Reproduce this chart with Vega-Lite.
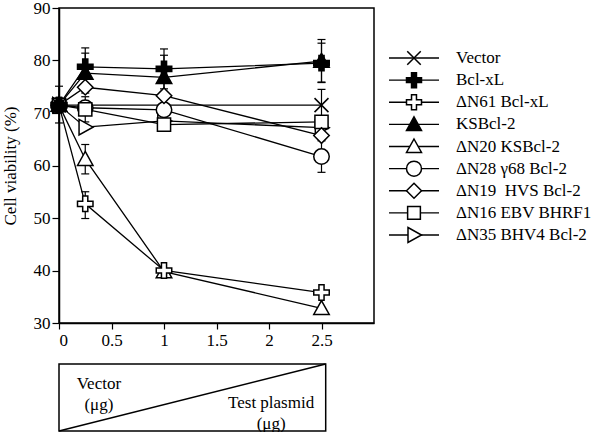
{
  "$schema": "https://vega.github.io/schema/vega-lite/v6.json",
  "padding": {"left": 0, "top": -2, "right": 0, "bottom": 0},
  "config": {
    "font": "Liberation Serif",
    "axis": {"domainColor": "black", "tickColor": "black", "labelColor": "black", "titleColor": "black", "grid": false, "labelFontSize": 17, "titleFontSize": 17, "titleFontWeight": "normal", "tickWidth": 1.2, "domainWidth": 1.5, "labelFont": "Liberation Serif", "titleFont": "Liberation Serif"}
  },
  "datasets": {
    "pts": [
      {"series": "ΔN35 BHV4 Bcl-2", "x": 0, "v": 71.5},
      {"series": "ΔN35 BHV4 Bcl-2", "x": 0.25, "v": 67.3},
      {"series": "ΔN35 BHV4 Bcl-2", "x": 1, "v": 68.5},
      {"series": "ΔN35 BHV4 Bcl-2", "x": 2.5, "v": 67.2},
      {"series": "ΔN28 γ68 Bcl-2", "x": 0, "v": 71.5},
      {"series": "ΔN28 γ68 Bcl-2", "x": 0.25, "v": 71.0},
      {"series": "ΔN28 γ68 Bcl-2", "x": 1, "v": 70.6},
      {"series": "ΔN28 γ68 Bcl-2", "x": 2.5, "v": 61.7, "lo": 58.7, "hi": 64.7},
      {"series": "ΔN16 EBV BHRF1", "x": 0, "v": 71.5},
      {"series": "ΔN16 EBV BHRF1", "x": 0.25, "v": 70.7, "lo": 68.3, "hi": 73.1},
      {"series": "ΔN16 EBV BHRF1", "x": 1, "v": 67.8},
      {"series": "ΔN16 EBV BHRF1", "x": 2.5, "v": 68.3},
      {"series": "ΔN19\u00a0 HVS Bcl-2", "x": 0, "v": 71.5},
      {"series": "ΔN19\u00a0 HVS Bcl-2", "x": 0.25, "v": 74.9},
      {"series": "ΔN19\u00a0 HVS Bcl-2", "x": 1, "v": 73.3},
      {"series": "ΔN19\u00a0 HVS Bcl-2", "x": 2.5, "v": 65.7},
      {"series": "ΔN20 KSBcl-2", "x": 0, "v": 71.5},
      {"series": "ΔN20 KSBcl-2", "x": 0.25, "v": 61.2, "lo": 58.4, "hi": 64.0},
      {"series": "ΔN20 KSBcl-2", "x": 1, "v": 39.8},
      {"series": "ΔN20 KSBcl-2", "x": 2.5, "v": 32.8},
      {"series": "ΔN61 Bcl-xL", "x": 0, "v": 71.5},
      {"series": "ΔN61 Bcl-xL", "x": 0.25, "v": 52.7, "lo": 49.9, "hi": 55.0},
      {"series": "ΔN61 Bcl-xL", "x": 1, "v": 40.0},
      {"series": "ΔN61 Bcl-xL", "x": 2.5, "v": 35.8},
      {"series": "Vector", "x": 0, "v": 71.5, "lo": 68.1, "hi": 75.1},
      {"series": "Vector", "x": 2.5, "v": 71.5, "lo": 68.5, "hi": 74.5},
      {"series": "KSBcl-2", "x": 0, "v": 71.5},
      {"series": "KSBcl-2", "x": 0.25, "v": 77.6, "lo": 73.8, "hi": 81.4},
      {"series": "KSBcl-2", "x": 1, "v": 76.8, "lo": 72.6, "hi": 81.0},
      {"series": "KSBcl-2", "x": 2.5, "v": 79.9, "lo": 75.9, "hi": 84.0},
      {"series": "Bcl-xL", "x": 0, "v": 71.5},
      {"series": "Bcl-xL", "x": 0.25, "v": 78.8, "lo": 75.2, "hi": 82.4},
      {"series": "Bcl-xL", "x": 1, "v": 78.4, "lo": 74.6, "hi": 82.2},
      {"series": "Bcl-xL", "x": 2.5, "v": 79.5, "lo": 75.8, "hi": 83.3}
    ],
    "leg": [
      {"series": "Vector"},
      {"series": "Bcl-xL"},
      {"series": "ΔN61 Bcl-xL"},
      {"series": "KSBcl-2"},
      {"series": "ΔN20 KSBcl-2"},
      {"series": "ΔN28 γ68 Bcl-2"},
      {"series": "ΔN19\u00a0 HVS Bcl-2"},
      {"series": "ΔN16 EBV BHRF1"},
      {"series": "ΔN35 BHV4 Bcl-2"}
    ],
    "box": [{"x0": 0, "x1": 2.54, "y0": 0, "y1": 1}],
    "lbl": [
      {"t": "Vector\n(μg)", "x": 0.38, "y": 0.706},
      {"t": "Test plasmid\n(μg)", "x": 2.02, "y": 0.422}
    ]
  },
  "resolve": {"scale": {"x": "independent", "y": "independent"}},
  "spacing": 13,
  "hconcat": [
    {
      "spacing": 14,
      "resolve": {"scale": {"x": "independent", "y": "independent"}},
      "vconcat": [
        {
          "width": 315,
          "height": 315,
          "view": {"stroke": "black", "strokeWidth": 1.5},
          "data": {"name": "pts"},
          "encoding": {
            "x": {"field": "x", "type": "quantitative", "title": null, "scale": {"domain": [0, 3], "nice": false}, "axis": {"values": [0, 0.5, 1, 1.5, 2, 2.5], "format": "~g", "tickSize": 6, "labelPadding": 3}}
          },
          "layer": [
            {
              "mark": {"type": "line", "stroke": "black", "strokeWidth": 1.3},
              "encoding": {
                "y": {"field": "v", "type": "quantitative", "title": "Cell viability (%)", "scale": {"domain": [30, 90], "nice": false, "zero": false}, "axis": {"values": [30, 40, 50, 60, 70, 80, 90], "tickSize": 7, "labelPadding": 2, "titlePadding": 14}},
                "detail": {"field": "series"},
                "order": {"field": "x"}
              }
            },
            {
              "transform": [{"filter": "isValid(datum.hi)"}],
              "mark": {"type": "rule", "stroke": "black", "strokeWidth": 1.2},
              "encoding": {
                "y": {"field": "lo", "type": "quantitative", "title": "Cell viability (%)"},
                "y2": {"field": "hi"}
              }
            },
            {
              "transform": [{"filter": "isValid(datum.hi)"}],
              "mark": {"type": "tick", "orient": "horizontal", "size": 8, "thickness": 1.2, "color": "black", "opacity": 1},
              "encoding": {"y": {"field": "hi", "type": "quantitative", "title": "Cell viability (%)"}}
            },
            {
              "transform": [{"filter": "isValid(datum.lo)"}],
              "mark": {"type": "tick", "orient": "horizontal", "size": 8, "thickness": 1.2, "color": "black", "opacity": 1},
              "encoding": {"y": {"field": "lo", "type": "quantitative", "title": "Cell viability (%)"}}
            },
            {
              "mark": {"type": "point", "size": 240, "stroke": "black", "strokeWidth": 1.5, "opacity": 1},
              "encoding": {
                "y": {"field": "v", "type": "quantitative", "title": "Cell viability (%)"},
                "shape": {
                  "field": "series", "type": "nominal",
                  "scale": {
                    "domain": ["Vector", "Bcl-xL", "ΔN61 Bcl-xL", "KSBcl-2", "ΔN20 KSBcl-2", "ΔN28 γ68 Bcl-2", "ΔN19\u00a0 HVS Bcl-2", "ΔN16 EBV BHRF1", "ΔN35 BHV4 Bcl-2"],
                    "range": [
                      "M-0.9,-0.9L0.9,0.9M-0.9,0.9L0.9,-0.9",
                      "M-0.33,-1H0.33V-0.33H1V0.33H0.33V1H-0.33V0.33H-1V-0.33H-0.33Z",
                      "M-0.33,-1H0.33V-0.33H1V0.33H0.33V1H-0.33V0.33H-1V-0.33H-0.33Z",
                      "M0,-1L1,0.8L-1,0.8Z",
                      "M0,-1L1,0.8L-1,0.8Z",
                      "M1,0A1,1 0 1,1 -1,0A1,1 0 1,1 1,0Z",
                      "M0,-1L1,0L0,1L-1,0Z",
                      "M-0.85,-0.85H0.85V0.85H-0.85Z",
                      "M-0.8,-1L1,0L-0.8,1Z"
                    ]
                  },
                  "legend": null
                },
                "fill": {
                  "field": "series", "type": "nominal",
                  "scale": {
                    "domain": ["Vector", "Bcl-xL", "ΔN61 Bcl-xL", "KSBcl-2", "ΔN20 KSBcl-2", "ΔN28 γ68 Bcl-2", "ΔN19\u00a0 HVS Bcl-2", "ΔN16 EBV BHRF1", "ΔN35 BHV4 Bcl-2"],
                    "range": ["white", "black", "white", "black", "white", "white", "white", "white", "white"]
                  },
                  "legend": null
                }
              }
            }
          ]
        },
        {
          "width": 315,
          "height": 67,
          "view": {"stroke": null},
          "layer": [
            {
              "data": {"name": "box"},
              "mark": {"type": "rect", "fill": "white", "stroke": "black", "strokeWidth": 1.5},
              "encoding": {
                "x": {"field": "x0", "type": "quantitative", "scale": {"domain": [0, 3], "nice": false}, "axis": null},
                "x2": {"field": "x1"},
                "y": {"field": "y0", "type": "quantitative", "scale": {"domain": [0, 1], "nice": false}, "axis": null},
                "y2": {"field": "y1"}
              }
            },
            {
              "data": {"name": "box"},
              "mark": {"type": "rule", "stroke": "black", "strokeWidth": 1.5},
              "encoding": {
                "x": {"field": "x0", "type": "quantitative"},
                "x2": {"field": "x1"},
                "y": {"field": "y0", "type": "quantitative"},
                "y2": {"field": "y1"}
              }
            },
            {
              "data": {"name": "lbl"},
              "mark": {"type": "text", "fontSize": 17, "lineBreak": "\n", "lineHeight": 21, "align": "center", "baseline": "middle", "color": "black"},
              "encoding": {
                "x": {"field": "x", "type": "quantitative"},
                "y": {"field": "y", "type": "quantitative"},
                "text": {"field": "t"}
              }
            }
          ]
        }
      ]
    },
    {
      "width": 207,
      "height": 296,
      "view": {"stroke": null},
      "data": {"name": "leg"},
      "encoding": {
        "y": {"field": "series", "type": "nominal", "sort": null, "axis": null,
          "scale": {"type": "point", "padding": 0, "range": [50, 227], "domain": ["Vector", "Bcl-xL", "ΔN61 Bcl-xL", "KSBcl-2", "ΔN20 KSBcl-2", "ΔN28 γ68 Bcl-2", "ΔN19\u00a0 HVS Bcl-2", "ΔN16 EBV BHRF1", "ΔN35 BHV4 Bcl-2"]}}
      },
      "layer": [
        {
          "mark": {"type": "rule", "stroke": "black", "strokeWidth": 1.3},
          "encoding": {
            "x": {"datum": 0, "type": "quantitative", "scale": {"domain": [0, 207], "nice": false, "zero": false}, "axis": null},
            "x2": {"datum": 50}
          }
        },
        {
          "mark": {"type": "point", "size": 225, "stroke": "black", "strokeWidth": 1.5, "opacity": 1},
          "encoding": {
            "x": {"datum": 25, "type": "quantitative"},
            "shape": {
              "field": "series", "type": "nominal", "legend": null,
              "scale": {
                "domain": ["Vector", "Bcl-xL", "ΔN61 Bcl-xL", "KSBcl-2", "ΔN20 KSBcl-2", "ΔN28 γ68 Bcl-2", "ΔN19\u00a0 HVS Bcl-2", "ΔN16 EBV BHRF1", "ΔN35 BHV4 Bcl-2"],
                "range": [
                  "M-0.95,-0.95L0.95,0.95M-0.95,0.95L0.95,-0.95",
                  "M-0.33,-1H0.33V-0.33H1V0.33H0.33V1H-0.33V0.33H-1V-0.33H-0.33Z",
                  "M-0.33,-1H0.33V-0.33H1V0.33H0.33V1H-0.33V0.33H-1V-0.33H-0.33Z",
                  "M0,-1L1,0.8L-1,0.8Z",
                  "M0,-1L1,0.8L-1,0.8Z",
                  "M1,0A1,1 0 1,1 -1,0A1,1 0 1,1 1,0Z",
                  "M0,-1L1,0L0,1L-1,0Z",
                  "M-0.85,-0.85H0.85V0.85H-0.85Z",
                  "M-0.8,-1L1,0L-0.8,1Z"
                ]
              }
            },
            "fill": {
              "field": "series", "type": "nominal", "legend": null,
              "scale": {
                "domain": ["Vector", "Bcl-xL", "ΔN61 Bcl-xL", "KSBcl-2", "ΔN20 KSBcl-2", "ΔN28 γ68 Bcl-2", "ΔN19\u00a0 HVS Bcl-2", "ΔN16 EBV BHRF1", "ΔN35 BHV4 Bcl-2"],
                "range": ["white", "black", "white", "black", "white", "white", "white", "white", "white"]
              }
            }
          }
        },
        {
          "mark": {"type": "text", "align": "left", "baseline": "middle", "fontSize": 17, "color": "black"},
          "encoding": {
            "x": {"datum": 67, "type": "quantitative"},
            "text": {"field": "series"}
          }
        }
      ]
    }
  ]
}
